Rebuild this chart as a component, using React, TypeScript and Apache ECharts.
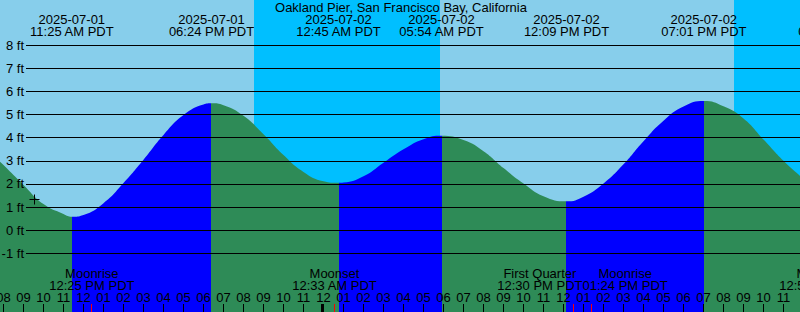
import React, { useEffect, useRef } from 'react';
import * as echarts from 'echarts';

const stationTitle = 'Oakland Pier, San Francisco Bay, California';

// Time is measured in hours since 2025-07-01 00:00 PDT
const viewStartHour = 7.825;
const viewEndHour = 47.825;
const heightMin = -3.54;
const heightMax = 9.96;

// Tide height (ft)
const tideHours = [7.825, 8, 9, 10, 11, 11.417, 12, 13, 14, 15, 16, 17, 18, 18.4, 19, 20, 21, 22, 23, 24, 24.75, 25, 26, 27, 28, 29, 29.9, 31, 32, 33, 34, 35, 36.15, 37, 38, 39, 40, 41, 42, 43.017, 44, 45, 46, 47, 47.825];
const tideFeet = [2.96, 2.82, 1.96, 1.13, 0.70, 0.58, 0.66, 1.17, 2.04, 3.05, 4.12, 4.98, 5.44, 5.49, 5.41, 4.95, 4.15, 3.25, 2.52, 2.12, 2.05, 2.06, 2.33, 2.92, 3.50, 3.94, 4.09, 3.90, 3.42, 2.69, 2.02, 1.47, 1.25, 1.45, 2.02, 2.85, 3.85, 4.74, 5.35, 5.59, 5.36, 4.83, 3.92, 3.00, 2.35];

// High / low tide events
const tideEventHours = [11.417, 18.4, 24.75, 29.9, 36.15, 43.017, 49.85];
const tideEventKinds = ['low', 'high', 'low', 'high', 'low', 'high', 'low'];
const tideEventDates = ['2025-07-01', '2025-07-01', '2025-07-02', '2025-07-02', '2025-07-02', '2025-07-02', '2025-07-03'];
const tideEventTimes = ['11:25 AM PDT', '06:24 PM PDT', '12:45 AM PDT', '05:54 AM PDT', '12:09 PM PDT', '07:01 PM PDT', '01:51 AM PDT'];

// Night periods
const sunsetHours = [20.52, 44.52];
const sunriseHours = [29.82, 53.83];

// Moon events
const moonEventHours = [12.417, 24.55, 36.5, 37.4, 48.9];
const moonEventNames = ['Moonrise', 'Moonset', 'First Quarter', 'Moonrise', 'Moonset'];
const moonEventTimes = ['12:25 PM PDT', '12:33 AM PDT', '12:30 PM PDT', '01:24 PM PDT', '12:54 AM PDT'];

// Day boundaries (midnight)
const dayBoundaryHours = [24];

// Current-time marker
const markerHour = 9.54;
const markerFeet = 1.31;

const hourTicks = Array.from({ length: 40 }, (_, i) => 8 + i);

const SKY_DAY = '#87CEEB';
const SKY_NIGHT = '#00BFFF';
const FLOOD = '#0000FF';
const EBB = '#2E8B57';
const FONT_FAMILY = '"Liberation Sans", Arial, Helvetica, sans-serif';
const FONT = `13px ${FONT_FAMILY}`;

function fmtHour(v: number) {
  const h = Math.round(v) % 12 || 12;
  return String(h).padStart(2, '0');
}

export default function App() {
  const ref = useRef<HTMLDivElement>(null);

  useEffect(() => {
    document.body.style.margin = '0';
    const chart = echarts.init(ref.current!, null, { renderer: 'svg' });

    const ctx = document.createElement('canvas').getContext('2d')!;
    ctx.font = FONT;
    const textW = (s: string) => ctx.measureText(s).width;

    // color pieces: rising (towards a high) = flood blue, falling = ebb green
    const pieces: any[] = [];
    for (let i = 0; i < tideEventHours.length; i++) {
      const p: any = { lt: tideEventHours[i], color: tideEventKinds[i] === 'high' ? FLOOD : EBB };
      if (i > 0) p.gte = tideEventHours[i - 1];
      pieces.push(p);
    }
    const last = tideEventHours.length - 1;
    pieces.push({ gte: tideEventHours[last], color: tideEventKinds[last] === 'low' ? FLOOD : EBB });

    const textEl = (text: string, x: number, y: number) => ({
      type: 'text',
      x,
      y,
      style: { text, align: 'center', verticalAlign: 'middle', fill: '#000', font: FONT },
    });

    const option: any = {
      animation: false,
      backgroundColor: SKY_DAY,
      textStyle: { fontFamily: FONT_FAMILY },
      graphic: [
        {
          type: 'text',
          x: 401,
          y: 7.5,
          z: 20,
          style: { text: stationTitle, align: 'center', verticalAlign: 'middle', fill: '#000', font: FONT },
        },
      ],
      grid: [
        { left: 0, right: 0, top: 0, bottom: 0, containLabel: false, outerBoundsMode: 'none' },
        { left: 26, right: 0, top: 45.3, bottom: 58.7, containLabel: false, outerBoundsMode: 'none' },
      ],
      xAxis: [
        {
          type: 'value',
          gridIndex: 0,
          min: viewStartHour,
          max: viewEndHour,
          position: 'bottom',
          z: 5,
          axisLine: { show: false, onZero: false },
          splitLine: { show: false },
          axisTick: { show: true, inside: true, length: 8, customValues: hourTicks, lineStyle: { color: '#000', width: 1 } },
          axisLabel: {
            show: true,
            inside: true,
            customValues: hourTicks,
            margin: 8,
            formatter: fmtHour,
            color: '#000',
            fontSize: 13,
            fontFamily: FONT_FAMILY,
          },
        },
        { type: 'value', gridIndex: 1, min: 0, max: 1, show: false },
      ],
      yAxis: [
        { type: 'value', gridIndex: 0, min: heightMin, max: heightMax, show: false },
        {
          type: 'value',
          gridIndex: 1,
          min: -1,
          max: 8,
          interval: 1,
          z: 5,
          axisLine: { show: false },
          axisTick: { show: false },
          splitLine: { show: true, lineStyle: { color: '#000', width: 1 } },
          axisLabel: { formatter: '{value} ft', margin: 2, color: '#000', fontSize: 13, fontFamily: FONT_FAMILY },
        },
      ],
      visualMap: { type: 'piecewise', show: false, dimension: 0, seriesIndex: 1, pieces },
      series: [
        {
          name: 'night',
          type: 'custom',
          xAxisIndex: 0,
          yAxisIndex: 0,
          z: 1,
          clip: true,
          data: sunsetHours.map((s, i) => [s, sunriseHours[i], 0]),
          encode: { x: [0, 1], y: 2 },
          renderItem: (params: any, api: any) => {
            const cs = params.coordSys;
            const x0 = Math.round(api.coord([api.value(0), 0])[0]);
            const x1 = Math.round(api.coord([api.value(1), 0])[0]);
            return {
              type: 'rect',
              shape: { x: x0, y: cs.y, width: x1 - x0, height: cs.height },
              style: { fill: SKY_NIGHT },
            };
          },
        },
        {
          name: 'tide',
          type: 'line',
          xAxisIndex: 0,
          yAxisIndex: 0,
          z: 2,
          smooth: 0.5,
          showSymbol: false,
          lineStyle: { width: 0 },
          areaStyle: { opacity: 1, origin: 'start' },
          data: tideHours.map((h, i) => [h, tideFeet[i]]),
        },
        {
          name: 'moon',
          type: 'custom',
          xAxisIndex: 0,
          yAxisIndex: 0,
          z: 6,
          data: moonEventHours.map((h) => [h, 0]),
          encode: { x: 0, y: 1 },
          renderItem: (params: any, api: any) => {
            const i = params.dataIndex;
            const cs = params.coordSys;
            const bottom = cs.y + cs.height;
            const xs = moonEventHours.map((h) => api.coord([h, 0])[0]);
            const ws = moonEventNames.map((n, k) => Math.max(textW(n), textW(moonEventTimes[k])));
            let lx = xs[i];
            if (i > 0) {
              const need = (ws[i - 1] + ws[i]) / 2 - (xs[i] - xs[i - 1]);
              if (need > 0) lx += need / 2;
            }
            if (i < xs.length - 1) {
              const need = (ws[i] + ws[i + 1]) / 2 - (xs[i + 1] - xs[i]);
              if (need > 0) lx -= need / 2;
            }
            const tx = Math.floor(xs[i]) + 0.5;
            return {
              type: 'group',
              children: [
                { type: 'line', shape: { x1: tx, y1: bottom - 8, x2: tx, y2: bottom }, style: { stroke: '#FF0000', lineWidth: 1 } },
                textEl(moonEventNames[i], lx, 273.3),
                textEl(moonEventTimes[i], lx, 285.2),
              ],
            };
          },
        },
        {
          name: 'days',
          type: 'custom',
          xAxisIndex: 0,
          yAxisIndex: 0,
          z: 6,
          data: dayBoundaryHours.map((h) => [h, 0]),
          encode: { x: 0, y: 1 },
          renderItem: (params: any, api: any) => {
            const cs = params.coordSys;
            const bottom = cs.y + cs.height;
            const x = Math.floor(api.coord([api.value(0), 0])[0]);
            return { type: 'rect', shape: { x: x - 2, y: bottom - 8, width: 2, height: 8 }, style: { fill: '#000' } };
          },
        },
        {
          name: 'tideEvents',
          type: 'custom',
          xAxisIndex: 0,
          yAxisIndex: 0,
          z: 6,
          data: tideEventHours.map((h) => [h, 0]),
          encode: { x: 0, y: 1 },
          renderItem: (params: any, api: any) => {
            const i = params.dataIndex;
            const x = api.coord([api.value(0), 0])[0];
            return {
              type: 'group',
              children: [textEl(tideEventDates[i], x, 19.2), textEl(tideEventTimes[i], x, 31.2)],
            };
          },
        },
        {
          name: 'marker',
          type: 'custom',
          xAxisIndex: 0,
          yAxisIndex: 0,
          z: 6,
          data: [[markerHour, markerFeet]],
          encode: { x: 0, y: 1 },
          renderItem: (params: any, api: any) => {
            const p = api.coord([api.value(0), api.value(1)]);
            const cx = Math.floor(p[0]) + 0.5;
            const cy = Math.floor(p[1]) + 0.5;
            return {
              type: 'group',
              children: [
                { type: 'line', shape: { x1: cx - 5, y1: cy, x2: cx + 5, y2: cy }, style: { stroke: '#000', lineWidth: 1 } },
                { type: 'line', shape: { x1: cx, y1: cy - 5, x2: cx, y2: cy + 5 }, style: { stroke: '#000', lineWidth: 1 } },
              ],
            };
          },
        },
      ],
    };

    chart.setOption(option);
    return () => chart.dispose();
  }, []);

  return <div ref={ref} style={{ width: 800, height: 312 }} />;
}
